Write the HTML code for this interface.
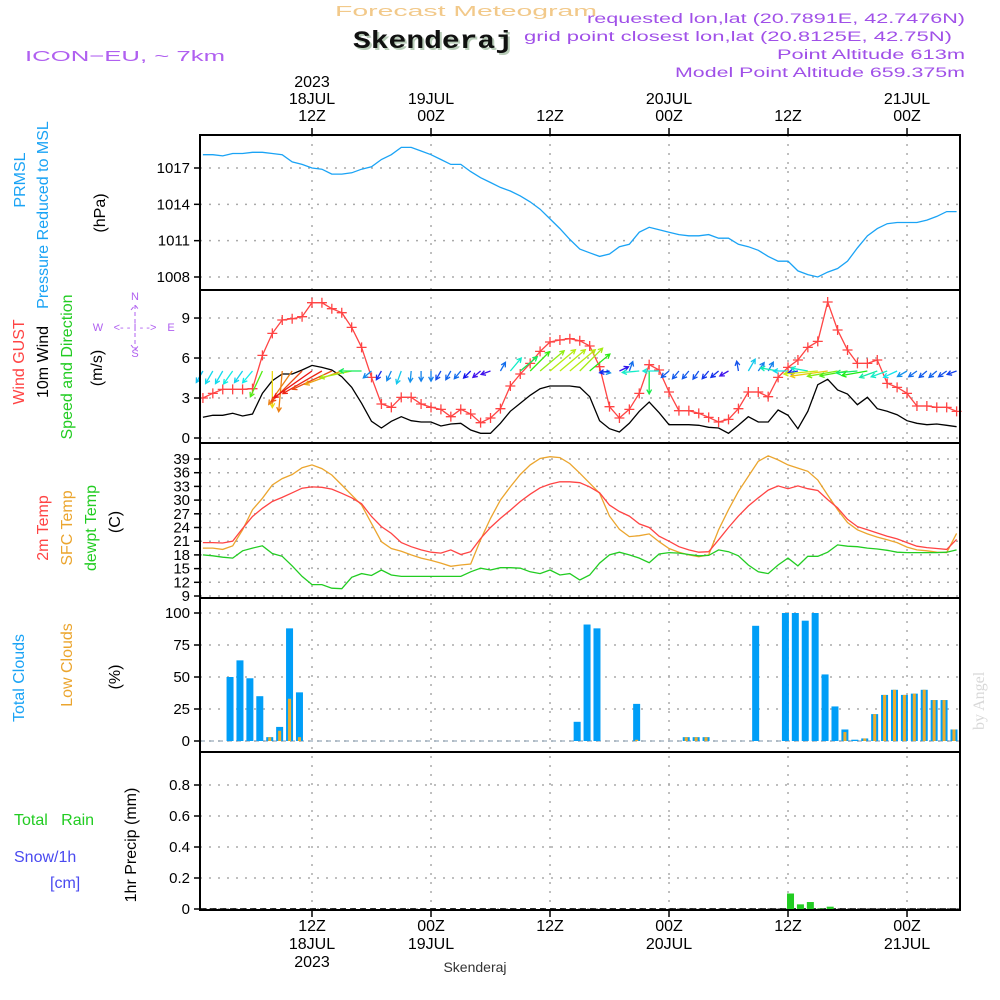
<!DOCTYPE html>
<html><head><meta charset="utf-8"><style>
html,body{margin:0;padding:0;background:#fff;}
svg{display:block;font-family:"Liberation Sans",sans-serif;}
</style></head><body>
<svg id="chart" width="1000" height="1000" viewBox="0 0 1000 1000" xmlns="http://www.w3.org/2000/svg">
<rect width="1000" height="1000" fill="#fff"/>
<text x="335" y="16" font-size="15" fill="#f2c98a" textLength="262" lengthAdjust="spacingAndGlyphs">Forecast Meteogram</text>
<text x="355" y="50" font-family="Liberation Mono,monospace" font-weight="bold" font-size="25" fill="#b8ccb8" textLength="160" lengthAdjust="spacingAndGlyphs">Skenderaj</text>
<text x="353" y="48" font-family="Liberation Mono,monospace" font-weight="bold" font-size="25" fill="#111" textLength="160" lengthAdjust="spacingAndGlyphs">Skenderaj</text>
<text x="25" y="61" font-size="15" fill="#b060f0" textLength="200" lengthAdjust="spacingAndGlyphs">ICON−EU, ~ 7km</text>
<g fill="#a050e8" font-size="13.5" text-anchor="end">
<text x="965" y="23" textLength="378" lengthAdjust="spacingAndGlyphs">requested lon,lat (20.7891E, 42.7476N)</text>
<text x="952" y="41" textLength="428" lengthAdjust="spacingAndGlyphs">grid point closest lon,lat (20.8125E, 42.75N)</text>
<text x="965" y="59" textLength="188" lengthAdjust="spacingAndGlyphs">Point Altitude 613m</text>
<text x="965" y="77" textLength="290" lengthAdjust="spacingAndGlyphs">Model Point Altitude 659.375m</text>
</g>
<text transform="translate(984,730) rotate(-90)" font-family="Liberation Serif,serif" font-size="16" fill="#d8d8d8">by Angel</text>
<g id="labels" font-size="15"></g>
<g id="grid"></g>
<g id="marks"></g>
<g id="frames"></g>
</svg>
<script>
// ---------- data (hour index from 00Z 18JUL 2023) ----------
const pressure = [1018.1,1018.1,1018.0,1018.2,1018.2,1018.3,1018.3,1018.2,1018.1,1017.5,1017.3,1017.0,1016.9,1016.5,1016.5,1016.6,1016.9,1017.1,1017.7,1018.1,1018.7,1018.7,1018.4,1018.1,1017.7,1017.3,1017.3,1016.7,1016.2,1015.8,1015.4,1015.1,1014.7,1014.2,1013.6,1012.8,1012.0,1011.1,1010.3,1010.0,1009.7,1009.9,1010.5,1010.7,1011.7,1012.1,1011.9,1011.7,1011.5,1011.4,1011.4,1011.5,1011.2,1011.2,1010.7,1010.5,1010.2,1009.7,1009.3,1009.3,1008.5,1008.2,1008.0,1008.4,1008.7,1009.3,1010.4,1011.4,1012.0,1012.4,1012.5,1012.5,1012.5,1012.7,1013.0,1013.4,1013.4];
const gust = [3.0,3.35,3.65,3.65,3.65,3.7,6.2,7.85,8.85,8.95,9.1,10.15,10.15,9.7,9.4,8.3,6.8,4.55,2.55,2.3,3.05,3.05,2.55,2.3,2.15,1.6,2.15,1.8,1.15,1.5,2.2,3.9,4.8,5.6,6.5,7.2,7.35,7.45,7.3,6.9,5.35,2.35,1.5,2.15,3.35,5.5,5.1,3.45,2.05,2.05,1.85,1.55,1.2,1.4,2.2,3.45,3.45,3.1,4.55,5.3,5.85,6.8,7.25,10.2,8.1,6.6,5.6,5.6,5.85,4.1,3.8,3.35,2.4,2.4,2.3,2.3,2.0];
const wind = [1.55,1.7,1.7,1.85,1.65,1.8,3.35,4.3,4.8,4.8,5.1,5.45,5.3,5.1,4.6,3.8,2.6,1.25,0.75,1.25,1.6,1.3,1.2,1.2,0.9,1.05,1.1,0.6,0.35,0.35,1.1,2.0,2.6,3.2,3.7,3.9,3.9,3.9,3.8,3.1,1.3,0.7,0.45,1.1,2.0,2.7,1.9,1.0,1.0,1.0,0.95,0.8,0.75,0.35,0.95,1.6,1.2,1.2,2.1,1.7,0.7,2.0,4.0,4.4,3.6,3.3,2.5,3.05,2.2,2.0,1.75,1.3,1.1,1.0,1.05,0.95,0.85];
const windDir = [120,120,120,125,125,130,115,90,95,125,135,145,150,155,160,168,180,140,120,115,110,95,90,90,120,120,130,135,140,160,-60,-50,-40,-45,-40,-40,-40,-40,-45,-40,10,170,-25,-70,175,90,180,140,130,130,125,130,140,150,-100,-60,-55,-60,190,180,170,190,175,172,170,170,175,170,160,160,155,150,145,140,140,145,160];
const temp2m = [20.7,20.7,20.6,21.0,23.8,26.4,28.2,29.7,30.6,31.6,32.6,32.9,32.8,32.4,31.5,30.5,29.2,26.4,24.2,22.7,20.7,19.8,19.1,18.6,18.4,19.1,18.1,18.7,21.6,24.0,26.0,27.8,29.7,31.3,32.7,33.5,34.0,34.0,33.8,32.9,31.6,28.9,27.5,26.5,24.8,24.0,22.1,21.0,19.8,19.1,18.6,18.7,21.3,24.0,26.5,28.7,30.5,32.2,33.1,32.5,33.1,32.5,32.1,30.1,28.3,25.8,24.2,23.5,22.8,22.1,21.5,20.7,19.9,19.6,19.4,19.2,21.4];
const sfcTemp = [19.5,19.5,19.2,20.0,23.5,27.9,30.4,33.3,34.7,35.6,37.1,37.7,36.9,35.5,33.3,31.1,28.9,24.9,20.9,19.4,18.8,18.0,17.3,16.8,16.2,15.5,15.8,16.0,21.3,26.0,30.0,32.9,35.6,37.7,39.1,39.5,39.3,38.0,35.9,33.7,31.5,26.5,23.6,22.0,22.2,22.6,20.9,19.4,18.6,18.0,17.6,18.0,23.5,27.9,31.9,35.2,38.5,39.7,38.8,37.7,37.0,36.3,34.4,31.1,27.9,25.1,23.5,22.6,21.9,21.3,20.7,19.7,19.1,18.9,18.6,18.5,22.7];
const dewpt = [18.0,17.8,17.5,17.3,18.9,19.5,20.0,18.3,17.7,15.6,13.3,11.5,11.5,10.7,10.6,13.1,13.9,13.5,14.7,13.6,13.3,13.3,13.3,13.3,13.3,13.3,13.3,14.3,15.1,14.7,15.2,15.2,15.1,14.3,13.9,14.7,13.6,13.9,12.5,13.6,16.2,18.0,18.6,18.0,17.3,16.3,18.2,18.5,18.4,18.1,17.8,17.9,19.1,18.7,17.8,15.8,14.3,13.9,15.8,17.3,15.6,17.7,17.7,18.6,20.2,19.9,19.8,19.5,19.3,19.0,18.6,18.5,18.5,18.5,18.5,18.6,19.1];
const cloudHours = [3,4,5,6,7,8,9,10,38,39,40,44,49,50,51,56,59,60,61,62,63,64,65,66,67,68,69,70,71,72,73,74,75,76];
const totalClouds = [50,63,49,35,3,11,88,38,15,91,88,29,3,3,3,90,100,100,94,100,52,27,9,1,2,21,36,40,36,37,40,32,32,9];
const lowClouds = [0,0,0,0,3,8,33,3,0,0,0,1,3,3,3,0,0,0,0,0,0,0,7,0,2,21,36,40,36,37,40,32,32,9];
const precipHours = [60,61,62,63,64];
const precipValues = [0.1,0.03,0.045,0.003,0.015];
const pressTicks = [1008,1011,1014,1017];
const windTicks = [0,3,6,9];
const tempTicks = [9,12,15,18,21,24,27,30,33,36,39];
const cloudTicks = [0,25,50,75,100];
const precipTicks = [0,0.2,0.4,0.6,0.8];
const timeTickHours = [12,24,36,48,60,72];
const topTimeLabels = [["2023","18JUL","12Z"],["19JUL","00Z"],["12Z"],["20JUL","00Z"],["12Z"],["21JUL","00Z"]];
const bottomTimeLabels = [["12Z","18JUL","2023"],["00Z","19JUL"],["12Z"],["00Z","20JUL"],["12Z"],["00Z","21JUL"]];

// ---------- scales ----------
const X0=200, X1=960;
const x = h => 312 + (h-12)*9.917;
const yP = v => 168 + (1017-v)*12.11;
const yW = v => 438 - v*13.33;
const yT = v => 459 + (39-v)*4.567;
const yC = v => 741 - v*1.28;
const yR = v => 909 - v*155;
const panels = [[135,290],[290,443],[443,598],[598,752],[752,910]];

const NS="http://www.w3.org/2000/svg";
function mk(tag, attrs, parent){const e=document.createElementNS(NS,tag);for(const k in attrs)e.setAttribute(k,attrs[k]);parent.appendChild(e);return e;}
const G=document.getElementById('grid'), M=document.getElementById('marks'), F=document.getElementById('frames'), L=document.getElementById('labels');

function yAxis(ticks, sc, fmt, name){
  ticks.forEach(t=>{
    const y=sc(t);
    const gl=mk('line',{x1:X0,x2:X1,y1:y,y2:y,stroke:'#aaa','stroke-width':1.5,'stroke-dasharray':'2 7'},G);
    
    
    mk('line',{x1:X0-6,x2:X0,y1:y,y2:y,stroke:'#000','stroke-width':1.5},F);
    const tx=mk('text',{x:190,y:y+5,'text-anchor':'end','font-size':15,fill:'#000'},L);
    tx.textContent=fmt(t);
    
    
  });
}
yAxis(pressTicks,yP,String,'pressure');
yAxis(windTicks,yW,String,'wind');
yAxis(tempTicks,yT,String,'temp');
yAxis(cloudTicks,yC,String,'cloud');
yAxis(precipTicks,yR,t=>t===0?'0':t.toFixed(1),'precip');
timeTickHours.forEach((h,i)=>{
  const vx=x(h);
  const vl=mk('line',{x1:vx,x2:vx,y1:135,y2:910,stroke:'#aaa','stroke-width':1.5,'stroke-dasharray':'2 7'},G);
  
  
  mk('line',{x1:vx,x2:vx,y1:128,y2:135,stroke:'#000','stroke-width':1.5},F);
  mk('line',{x1:vx,x2:vx,y1:910,y2:917,stroke:'#000','stroke-width':1.5},F);
  const top=topTimeLabels[i];
  top.forEach((s,j)=>{
    const t=mk('text',{x:vx,y:121-(top.length-1-j)*17,'text-anchor':'middle','font-size':16,fill:'#000'},L);
    t.textContent=s;
    
    
  });
  bottomTimeLabels[i].forEach((s,j)=>{
    const t=mk('text',{x:vx,y:931+j*18,'text-anchor':'middle','font-size':16,fill:'#000'},L);
    t.textContent=s;
    
    
  });
});
for(let h=1;h<=77;h++){mk('line',{x1:x(h),x2:x(h)+4,y1:909,y2:909,stroke:'#555','stroke-width':1.5},G);}

function line(arr, sc, color, name, w){
  const d=arr.map((v,i)=>(i?'L':'M')+x(i+1).toFixed(1)+' '+sc(v).toFixed(1)).join(' ');
  const p=mk('path',{d:d,fill:'none',stroke:color,'stroke-width':w||1.3},M);
  
  
}
line(pressure,yP,'#1aa3f5','pressure-line');
line(wind,yW,'#000','wind-speed-line');
line(gust,yW,'#f44','gust-line');
gust.forEach((v,i)=>{
  const cx=x(i+1), cy=yW(v);
  const pm=mk('path',{d:`M${cx-5} ${cy}H${cx+5}M${cx} ${cy-5}V${cy+5}`,stroke:'#f44','stroke-width':1.3},M);
  
  
});
windDir.forEach((deg,i)=>{
  const sp=wind[i], len=Math.max(10,sp*8.5), a=deg*Math.PI/180;
  const x1=x(i+1), y1=371, x2=x1+len*Math.cos(a), y2=y1+len*Math.sin(a);
  const hue=Math.max(0,270-sp*50);
  const col=`hsl(${hue},85%,50%)`;
  const h1=a+Math.PI-0.5, h2=a+Math.PI+0.5;
  const ar=mk('path',{d:`M${x1} ${y1}L${x2} ${y2}M${x2+5*Math.cos(h1)} ${y2+5*Math.sin(h1)}L${x2} ${y2}L${x2+5*Math.cos(h2)} ${y2+5*Math.sin(h2)}`,fill:'none',stroke:col,'stroke-width':1.3},M);
  
  
});
line(sfcTemp,yT,'#eba52e','sfc-temp-line');
line(temp2m,yT,'#f44','temp-2m-line');
line(dewpt,yT,'#22cc22','dewpt-line');
mk('line',{x1:X0,x2:X1,y1:741,y2:741,stroke:'#9ab','stroke-width':1.2,'stroke-dasharray':'5 4'},M);
cloudHours.forEach((h,i)=>{
  const bx=x(h)+3.8;
  const b=mk('rect',{x:bx,y:yC(totalClouds[i]),width:7,height:Math.max(0.5,741-yC(totalClouds[i])),fill:'#009ef7'},M);
  
  
  if(lowClouds[i]>0){
    const lb=mk('rect',{x:bx+2,y:yC(lowClouds[i]),width:3,height:741-yC(lowClouds[i]),fill:'#e8ad2f'},M);
    
    
  }
});
mk('line',{x1:X0,x2:X1,y1:909,y2:909,stroke:'#000','stroke-width':1.5,'stroke-dasharray':'6 4'},M);
precipHours.forEach((h,i)=>{
  const b=mk('rect',{x:x(h)-1,y:yR(precipValues[i]),width:7,height:909-yR(precipValues[i]),fill:'#22cc22'},M);
  
  
});
panels.forEach(p=>{mk('rect',{x:X0,y:p[0],width:X1-X0,height:p[1]-p[0],fill:'none',stroke:'#000','stroke-width':2},F);});

function vt(txt,cx,cy,color,name,size){
  const t=mk('text',{transform:`translate(${cx},${cy}) rotate(-90)`,'text-anchor':'middle','font-size':size||16,fill:color},L);
  t.textContent=txt;
  
  
}
vt('PRMSL',25,180,'#1aa3f5','prmsl-title');
vt('Pressure Reduced to MSL',48,215,'#1aa3f5','pressure-title');
vt('(hPa)',105,213,'#000','pressure-unit');
vt('Wind GUST',24,362,'#f44','gust-title');
vt('10m Wind',48,362,'#000','wind-title');
vt('Speed and Direction',72,367,'#22cc22','wind-dir-title');
vt('(m/s)',102,368,'#000','wind-unit');
vt('2m Temp',48,528,'#f44','temp-title');
vt('SFC Temp',72,528,'#eba52e','sfc-title');
vt('dewpt Temp',96,528,'#22cc22','dewpt-title');
vt('(C)',120,522,'#000','temp-unit');
vt('Total Clouds',24,678,'#1aa3f5','total-clouds-title');
vt('Low Clouds',72,665,'#eba52e','low-clouds-title');
vt('(%)',120,677,'#000','cloud-unit');
vt('1hr Precip (mm)',136,845,'#000','precip-title');
function ht(txt,tx,ty,color,name,size,anchor){
  const t=mk('text',{x:tx,y:ty,'font-size':size||16,fill:color,'text-anchor':anchor||'start'},L);
  t.style.whiteSpace='pre';
  t.textContent=txt;
  
  
}
ht('Total   Rain',14,825,'#22cc22','rain-label');
ht('Snow/1h',14,862,'#4a4af0','snow-label');
ht('[cm]',50,888,'#4a4af0','snow-unit');
ht('Skenderaj',475,972,'#333','bottom-location',14,'middle');
ht('N',135,300,'#b060f0','compass-n',11,'middle');
ht('S',135,357,'#b060f0','compass-s',11,'middle');
ht('W',98,331,'#b060f0','compass-w',11,'middle');
ht('E',171,331,'#b060f0','compass-e',11,'middle');
ht('<- - I - ->',135,331,'#b060f0','compass-axis',11,'middle');
mk('path',{d:'M135 305V350M131 310L135 305L139 310M131 345L135 350L139 345',stroke:'#b060f0','stroke-width':1,fill:'none','stroke-dasharray':'4 3'},L);
</script>
</body></html>
